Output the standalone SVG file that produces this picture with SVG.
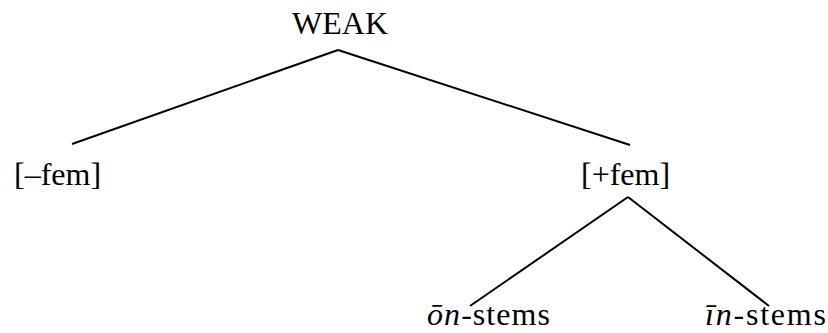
<svg xmlns="http://www.w3.org/2000/svg" width="828" height="333" viewBox="0 0 828 333">
  <style>
    .lbl { font-family: "Liberation Serif", "Times New Roman", serif; font-size: 32px; fill: #000; }
    .edge { stroke: #000; stroke-width: 2; fill: none; stroke-linecap: butt; }
  </style>
  <rect width="828" height="333" fill="#fff"/>
  <g id="connectors">
    <line class="edge" x1="338" y1="50" x2="72" y2="144"/>
    <line class="edge" x1="338" y1="50" x2="630" y2="145"/>
    <line class="edge" x1="628" y1="197" x2="470" y2="306"/>
    <line class="edge" x1="628" y1="197" x2="769" y2="306"/>
  </g>
  <g id="weak">
    <text class="lbl" x="340" y="34" text-anchor="middle">WEAK</text>
  </g>
  <g id="minus-fem">
    <text class="lbl" x="14" y="185">[–fem]</text>
  </g>
  <g id="plus-fem">
    <text class="lbl" x="581" y="185">[+fem]</text>
  </g>
  <g id="on-stems">
    <text class="lbl" x="427" y="325" textLength="123" lengthAdjust="spacing"><tspan font-style="italic">ōn</tspan>-stems</text>
  </g>
  <g id="in-stems">
    <text class="lbl" x="705" y="325" textLength="121" lengthAdjust="spacing"><tspan font-style="italic">īn</tspan>-stems</text>
  </g>
</svg>
